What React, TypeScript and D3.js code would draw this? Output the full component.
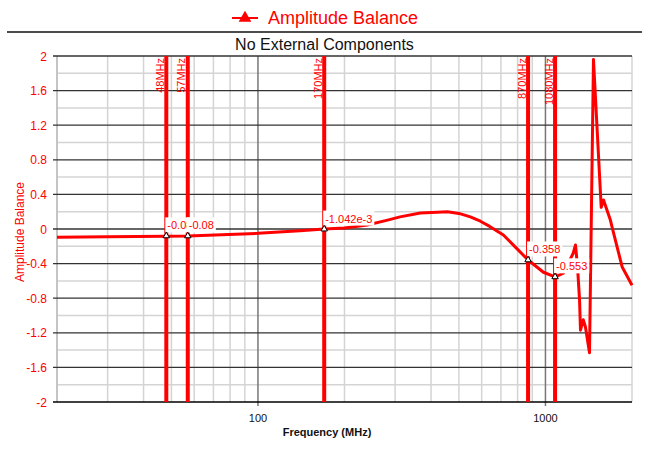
import React, { useEffect, useRef } from "react";
import * as d3 from "d3";

const freqs = [20, 30, 48, 57, 100, 140, 170, 200, 240, 280, 312, 367, 420, 456, 500, 548, 594, 640, 714, 786, 870, 984, 1080, 1155, 1249, 1272, 1293, 1314, 1324, 1353, 1377, 1423, 1469, 1563, 1592, 1683, 1706, 1849, 2000];
const balance = [-0.095, -0.09, -0.083, -0.08, -0.05, -0.02, -0.001, 0.012, 0.046, 0.1, 0.14, 0.185, 0.195, 0.2, 0.18, 0.14, 0.09, 0.03, -0.07, -0.21, -0.358, -0.5, -0.553, -0.51, -0.28, -0.185, -0.44, -0.82, -1.17, -1.05, -1.13, -1.43, 1.96, 0.25, 0.335, 0.1, 0.02, -0.44, -0.65];

const markerFreqs = [48, 57, 170, 870, 1080];
const markerNames = ["48MHz", "57MHz", "170MHz", "870MHz", "1080MHz"];
const markerValues = [-0.08, -0.08, -0.001042, -0.358, -0.553];
const markerLabels = ["-0.08", "-0.08", "-1.042e-3", "-0.358", "-0.553"];

const yTicks = [-2, -1.6, -1.2, -0.8, -0.4, 0, 0.4, 0.8, 1.2, 1.6, 2];
const yMinor = [-1.8, -1.4, -1.0, -0.6, -0.2, 0.2, 0.6, 1.0, 1.4, 1.8];
const xMajor = [100, 1000];
const xMinor = [30, 40, 50, 60, 70, 80, 90, 200, 300, 400, 500, 600, 700, 800, 900, 2000];

const W = 649, H = 449;
const FONT = "Liberation Sans, Arial, sans-serif";

export default function App() {
  const ref = useRef<SVGSVGElement>(null);
  useEffect(() => {
    const svg = d3.select(ref.current);
    svg.selectAll("*").remove();
    const L = 57, R = 632, T = 56, B = 402;
    const x = d3.scaleLog().domain([20, 2000]).range([L, R]);
    const y = d3.scaleLinear().domain([-2, 2]).range([B, T]);

    svg.append("rect").attr("width", W).attr("height", H).attr("fill", "white");

    // legend
    svg.append("line").attr("x1", 232).attr("x2", 258).attr("y1", 18).attr("y2", 18).attr("stroke", "red").attr("stroke-width", 2);
    svg.append("path").attr("d", d3.symbol(d3.symbolTriangle, 70)()!).attr("transform", "translate(245,18)").attr("fill", "red");
    svg.append("text").attr("x", 268).attr("y", 24).attr("font-size", 18).attr("font-family", FONT).attr("fill", "red").text("Amplitude Balance");
    svg.append("line").attr("x1", 7).attr("x2", 642).attr("y1", 32).attr("y2", 32).attr("stroke", "#111").attr("stroke-width", 1.5);
    svg.append("text").attr("x", W / 2).attr("y", 50).attr("text-anchor", "middle").attr("font-size", 16).attr("font-family", FONT).attr("fill", "#111").text("No External Components");

    // grid
    const g = svg.append("g");
    yMinor.forEach(v => g.append("line").attr("x1", L).attr("x2", R).attr("y1", y(v)).attr("y2", y(v)).attr("stroke", "#d4d4d4").attr("stroke-width", 1.5));
    xMinor.forEach(v => g.append("line").attr("x1", x(v)).attr("x2", x(v)).attr("y1", T).attr("y2", B).attr("stroke", "#d4d4d4").attr("stroke-width", 1.5));
    g.append("line").attr("x1", L).attr("x2", L).attr("y1", T).attr("y2", B).attr("stroke", "#c4c4c4").attr("stroke-width", 2);
    xMajor.forEach(v => g.append("line").attr("x1", x(v)).attr("x2", x(v)).attr("y1", T).attr("y2", B + 4).attr("stroke", "#777").attr("stroke-width", 1.5));
    yTicks.forEach(v => g.append("line").attr("x1", L - 4).attr("x2", R).attr("y1", y(v)).attr("y2", y(v)).attr("stroke", v === -2 ? "#000" : "#333").attr("stroke-width", 1.3));

    // y tick labels
    yTicks.forEach(v => svg.append("text").attr("x", 47).attr("y", y(v) + 4.5).attr("text-anchor", "end").attr("font-size", 12).attr("font-family", FONT).attr("fill", "red").text(String(v)));
    svg.append("text").attr("transform", `translate(24,232) rotate(-90)`).attr("text-anchor", "middle").attr("font-size", 12).attr("font-family", FONT).attr("fill", "red").text("Amplitude Balance");

    // x tick labels
    xMajor.forEach(v => svg.append("text").attr("x", x(v)).attr("y", 422).attr("text-anchor", "middle").attr("font-size", 11).attr("font-family", FONT).attr("fill", "#111").text(String(v)));
    svg.append("text").attr("x", 327).attr("y", 436).attr("text-anchor", "middle").attr("font-size", 11).attr("font-weight", "bold").attr("font-family", FONT).attr("fill", "#111").text("Frequency (MHz)");

    // marker lines
    markerFreqs.forEach((f, i) => {
      svg.append("line").attr("x1", x(f)).attr("x2", x(f)).attr("y1", T).attr("y2", B).attr("stroke", "red").attr("stroke-width", 4);
      svg.append("text").attr("transform", `translate(${x(f) - 2.5},58) rotate(-90)`).attr("text-anchor", "end").attr("font-size", 11).attr("font-family", FONT).attr("fill", "red").text(markerNames[i]);
    });

    // curve
    const pts = freqs.map((f, i) => [f, balance[i]] as [number, number]);
    svg.append("path").attr("d", d3.line<[number, number]>().x(d => x(d[0])).y(d => y(d[1]))(pts)!).attr("fill", "none").attr("stroke", "red").attr("stroke-width", 3).attr("stroke-linejoin", "round");

    // marker data labels
    markerFreqs.forEach((f, i) => {
      const px = x(f), py = y(markerValues[i]);
      const rect = svg.append("rect").attr("fill", "white");
      const t = svg.append("text").attr("x", px + 1).attr("y", py - 6.5).attr("font-size", 11).attr("font-family", FONT).attr("fill", "red").text(markerLabels[i]);
      const bb = (t.node() as SVGTextElement).getBBox();
      rect.attr("x", px - 1).attr("y", py - 18.5).attr("width", bb.width + 4).attr("height", 15);
    });
    markerFreqs.forEach((f, i) => {
      svg.append("path").attr("d", d3.symbol(d3.symbolTriangle, 18)()!).attr("transform", `translate(${x(f)},${y(markerValues[i])})`).attr("fill", "white").attr("stroke", "#000").attr("stroke-width", 1);
    });
  }, []);
  return <svg ref={ref} width={W} height={H} style={{ position: "absolute", left: 0, top: 0 }} />;
}
